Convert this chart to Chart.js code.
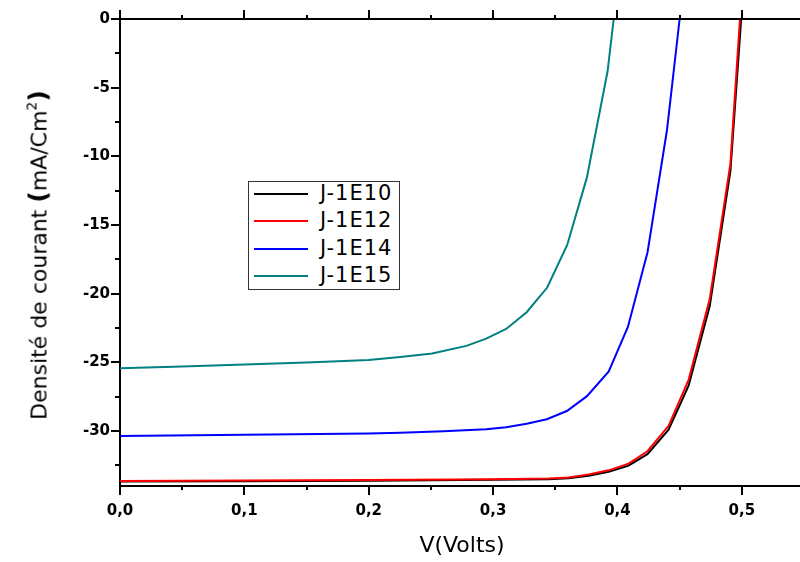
<!DOCTYPE html>
<html>
<head>
<meta charset="utf-8">
<script src="https://cdn.jsdelivr.net/npm/chart.js@4.4.1/dist/chart.umd.min.js"></script>
<style>
  html, body { margin: 0; padding: 0; background: #fff; overflow: hidden; }
  #wrap { position: relative; width: 800px; height: 562px; overflow: hidden; }
  #chart { position: absolute; left: 0; top: 0; }
  #ytitle {
    position: absolute; left: 39px; top: 255px;
    transform: translate(-50%, -50%) rotate(-90deg);
    white-space: nowrap; font-family: 'DejaVu Sans'; font-size: 22px; line-height: 22px; color: #000;
  }
  #ytitle b { font-size: 25px; }
  #ytitle sup { font-size: 14px; line-height: 0; vertical-align: 0.7em; }
  #legend {
    position: absolute; left: 248px; top: 181px; width: 150px; height: 107px;
    border: 1px solid #333; background: #fff;
  }
  .row-line { position: absolute; left: 5px; width: 54px; height: 2px; }
  .row-text { position: absolute; left: 71px; font-family: 'DejaVu Sans'; font-size: 21px; line-height: 21px; letter-spacing: 1px; color: #000; }
</style>
</head>
<body>
<div id="wrap">
  <canvas id="chart" width="806" height="562"></canvas>
  <div id="ytitle">Densité de courant <b>(</b>mA/Cm<sup>2</sup><b>)</b></div>
  <div id="legend"></div>
</div>
<script>
// series (V in volts, J in mA/cm2)
const seriesNames = ['J-1E10', 'J-1E12', 'J-1E14', 'J-1E15'];
const seriesColors = ['#000000', '#ff0000', '#0000ff', '#008080'];

const vJ1E10 = [0, 0.1, 0.2, 0.3, 0.3446, 0.3607, 0.3768, 0.3929, 0.4089, 0.4241, 0.4411, 0.4572, 0.4742, 0.4908, 0.4995];
const jJ1E10 = [-33.68, -33.65, -33.62, -33.55, -33.5, -33.43, -33.25, -32.97, -32.52, -31.68, -29.9, -26.7, -20.9, -11.1, 0];

const vJ1E12 = [0, 0.1, 0.2, 0.3, 0.3446, 0.3607, 0.3768, 0.3929, 0.4089, 0.4241, 0.4411, 0.4572, 0.4742, 0.4908, 0.4985];
const jJ1E12 = [-33.63, -33.6, -33.57, -33.5, -33.45, -33.38, -33.17, -32.86, -32.37, -31.47, -29.62, -26.27, -20.39, -10.55, 0];

const vJ1E14 = [0, 0.1, 0.2, 0.2253, 0.26, 0.2945, 0.3105, 0.327, 0.3432, 0.3593, 0.3755, 0.393, 0.4084, 0.4242, 0.4398, 0.45];
const jJ1E14 = [-30.36, -30.27, -30.17, -30.12, -30.02, -29.86, -29.72, -29.47, -29.14, -28.54, -27.46, -25.66, -22.42, -16.98, -8.1, 0];

const vJ1E15 = [0, 0.05, 0.1, 0.15, 0.2, 0.2253, 0.251, 0.2785, 0.2945, 0.3105, 0.327, 0.3435, 0.3596, 0.3754, 0.392, 0.397];
const jJ1E15 = [-25.42, -25.3, -25.15, -25.0, -24.82, -24.6, -24.36, -23.8, -23.27, -22.57, -21.35, -19.55, -16.45, -11.55, -3.84, 0];

const xTickValues = [0, 0.1, 0.2, 0.3, 0.4, 0.5];
const xTickLabels = ['0,0', '0,1', '0,2', '0,3', '0,4', '0,5'];
const xMinorTicks = [0.05, 0.15, 0.25, 0.35, 0.45, 0.55];
const yTickValues = [0, -5, -10, -15, -20, -25, -30];
const yTickLabels = ['0', '-5', '-10', '-15', '-20', '-25', '-30'];
const yMinorTicks = [-2.5, -7.5, -12.5, -17.5, -22.5, -27.5, -32.5];

const xTitle = 'V(Volts)';

function pts(v, j) {
  return v.map((x, i) => ({ x: x, y: j[i] }));
}

// legend (inside the plot, like the original)
const legend = document.getElementById('legend');
seriesNames.forEach((name, i) => {
  const top = 12 + i * 27.4;
  const line = document.createElement('div');
  line.className = 'row-line';
  line.style.top = (top - 1) + 'px';
  line.style.background = seriesColors[i];
  const txt = document.createElement('div');
  txt.className = 'row-text';
  txt.style.top = (top - 11) + 'px';
  txt.textContent = name;
  legend.appendChild(line);
  legend.appendChild(txt);
});

// box frame + outer ticks
const frameTicks = {
  id: 'frameTicks',
  afterDatasetsDraw(chart) {
    const { ctx, chartArea: a, scales: { x, y } } = chart;
    ctx.save();
    ctx.strokeStyle = '#000';
    ctx.lineWidth = 2;
    ctx.beginPath();
    ctx.moveTo(a.left - 1, a.top);
    ctx.lineTo(a.right, a.top);
    ctx.lineTo(a.right, a.bottom);
    function xt(list, len) {
      list.forEach(v => {
        const px = Math.round(x.getPixelForValue(v));
        ctx.moveTo(px, a.bottom); ctx.lineTo(px, a.bottom + len);
        ctx.moveTo(px, a.top); ctx.lineTo(px, a.top - len);
      });
    }
    function yt(list, len) {
      list.forEach(v => {
        const py = Math.round(y.getPixelForValue(v));
        ctx.moveTo(a.left, py); ctx.lineTo(a.left - len, py);
        ctx.moveTo(a.right, py); ctx.lineTo(a.right + len, py);
      });
    }
    xt(xTickValues, 9);
    xt(xMinorTicks, 4);
    yt(yTickValues, 9);
    yt(yMinorTicks, 5);
    ctx.stroke();
    ctx.restore();
  }
};

const tickFont = { family: 'DejaVu Sans', size: 15, weight: 'bold' };

new Chart(document.getElementById('chart'), {
  type: 'line',
  data: {
    datasets: [
      // red drawn on top of black (lower order is drawn last)
      { label: seriesNames[1], data: pts(vJ1E12, jJ1E12), borderColor: seriesColors[1], order: 1 },
      { label: seriesNames[0], data: pts(vJ1E10, jJ1E10), borderColor: seriesColors[0], order: 2 },
      { label: seriesNames[2], data: pts(vJ1E14, jJ1E14), borderColor: seriesColors[2], order: 3 },
      { label: seriesNames[3], data: pts(vJ1E15, jJ1E15), borderColor: seriesColors[3], order: 4 }
    ]
  },
  options: {
    responsive: false,
    animation: false,
    layout: { padding: { top: 13, right: 2, left: 0, bottom: 0 } },
    elements: {
      point: { radius: 0 },
      line: { tension: 0, borderWidth: 2, fill: false }
    },
    plugins: { legend: { display: false }, tooltip: { enabled: false } },
    scales: {
      x: {
        type: 'linear',
        min: 0,
        max: 0.55,
        afterFit(s) { s.height = 76; },
        afterBuildTicks(s) { s.ticks = xTickValues.map(v => ({ value: v })); },
        ticks: {
          callback: (v, i) => xTickLabels[i],
          font: tickFont, color: '#000', padding: 16,
          autoSkip: false, maxRotation: 0
        },
        grid: { display: false, drawTicks: false },
        border: { display: true, color: '#000', width: 2 },
        title: {
          display: true, text: xTitle, color: '#000',
          font: { family: 'DejaVu Sans', size: 22 },
          padding: { top: 0, bottom: 3 }
        }
      },
      y: {
        type: 'linear',
        min: -34,
        max: 0,
        afterFit(s) { s.width = 120; },
        afterBuildTicks(s) { s.ticks = yTickValues.map(v => ({ value: v })); },
        ticks: {
          callback: (v, i) => yTickLabels[i],
          font: tickFont, color: '#000', padding: 10,
          autoSkip: false
        },
        grid: { display: false, drawTicks: false },
        border: { display: true, color: '#000', width: 2 }
      }
    }
  },
  plugins: [frameTicks]
});
</script>
</body>
</html>
